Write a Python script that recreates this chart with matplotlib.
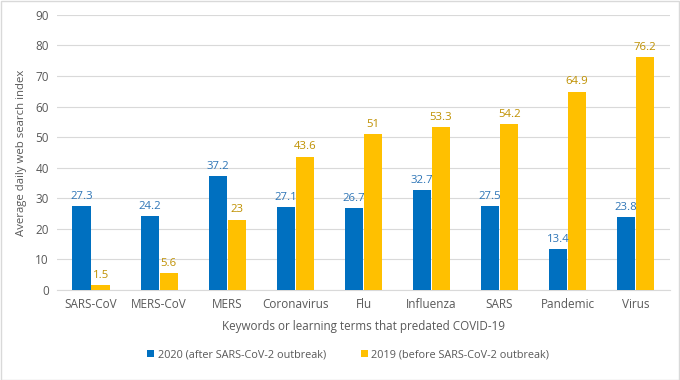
import numpy as np
import matplotlib
matplotlib.use("Agg")
import matplotlib.pyplot as plt
from matplotlib.patches import Rectangle

# data
categories = ["SARS-CoV", "MERS-CoV", "MERS", "Coronavirus", "Flu",
              "Influenza", "SARS", "Pandemic", "Virus"]
vals_2020 = [27.3, 24.2, 37.2, 27.1, 26.7, 32.7, 27.5, 13.4, 23.8]
vals_2019 = [1.5, 5.6, 23, 43.6, 51, 53.3, 54.2, 64.9, 76.2]
labels_2020 = ["27.3", "24.2", "37.2", "27.1", "26.7", "32.7", "27.5", "13.4", "23.8"]
labels_2019 = ["1.5", "5.6", "23", "43.6", "51", "53.3", "54.2", "64.9", "76.2"]
yticks = [0, 10, 20, 30, 40, 50, 60, 70, 80, 90]

plt.rcParams['font.family'] = ['Open Sans', 'DejaVu Sans']
grey = "#595959"
blue = "#0070C0"
gold = "#FFC000"

fig = plt.figure(figsize=(6.8, 3.8), dpi=100)
ax = fig.add_axes([0.084, 0.237, 0.901, 0.724])

x = np.arange(len(categories))
w = 0.27
b1 = ax.bar(x - w / 2 - 0.005, vals_2020, w, color=blue, zorder=3,
            label="2020 (after SARS-CoV-2 outbreak)")
b2 = ax.bar(x + w / 2 + 0.005, vals_2019, w, color=gold, zorder=3,
            label="2019 (before SARS-CoV-2 outbreak)")
ax.bar_label(b1, labels=labels_2020, padding=3, fontsize=8.2, color="#2E75B6")
ax.bar_label(b2, labels=labels_2019, padding=3, fontsize=8.2, color="#BF9000")

ax.set_ylim(0, 90)
ax.set_xlim(-0.5, len(categories) - 0.5)
ax.set_yticks(yticks)
ax.set_xticks(x)
ax.set_xticklabels(categories)
ax.yaxis.grid(True, color="#D9D9D9", linewidth=0.8, zorder=0)
for s in ["top", "right", "left"]:
    ax.spines[s].set_visible(False)
ax.spines["bottom"].set_color("#D9D9D9")
ax.tick_params(axis="both", length=0, labelsize=8.5, colors=grey, pad=6)
ax.set_ylabel("Average daily web search index", fontsize=8.2, color=grey, labelpad=6)
ax.set_xlabel("Keywords or learning terms that predated COVID-19",
              fontsize=8.4, color=grey, labelpad=6)

fig.legend(handles=[b1, b2], loc="center", bbox_to_anchor=(0.512, 0.066), ncol=2,
           frameon=False, fontsize=7.8, labelcolor=grey, handlelength=0.7,
           handleheight=0.7, handletextpad=0.3, columnspacing=3.2)

fig.patches.append(Rectangle((0.001, 0.001), 0.997, 0.997, transform=fig.transFigure,
                             fill=False, edgecolor="#D9D9D9", linewidth=1))

fig.savefig("out.png", dpi=100)
